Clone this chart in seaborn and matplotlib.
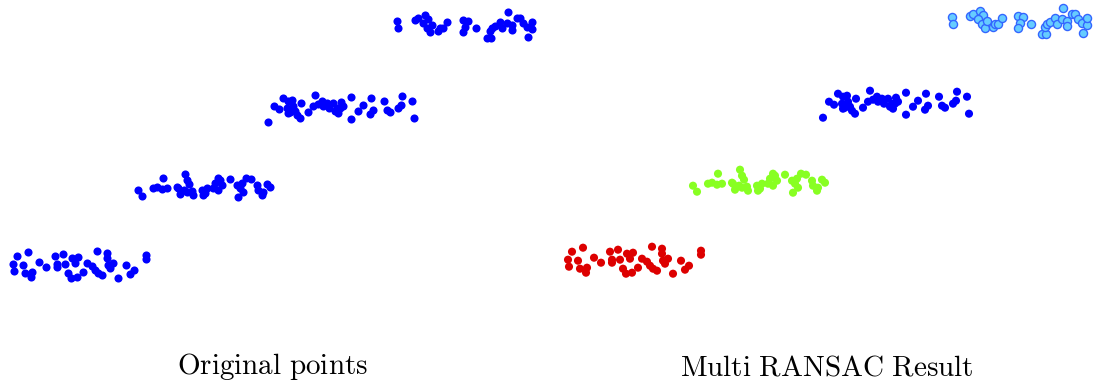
import matplotlib
matplotlib.use("Agg")
import matplotlib.pyplot as plt
import seaborn as sns
import pandas as pd

sns.set_theme(style="white")
plt.rcParams["mathtext.fontset"] = "cm"

# Four line-like groups of 2-D points (x to the right, y downward)
g1_x = [17, 28, 13, 14, 23, 25, 32, 31, 39, 46, 55, 63, 57, 57, 65, 68, 72, 78, 75, 71,
        77, 83, 87, 92, 97, 95, 98, 102, 107, 107, 108, 113, 110, 118, 126, 130, 134, 146, 146]
g1_y = [256, 252, 264, 271, 265, 273, 272, 277, 262, 267, 256, 254, 264, 267, 264, 273, 258, 257, 263, 278,
        277, 272, 263, 266, 251, 270, 273, 275, 253, 258, 265, 263, 268, 278, 265, 274, 270, 255, 259]

g2_x = [138, 142, 153, 157, 162, 163, 167, 177, 178, 185, 187, 189, 184, 180, 187, 192, 193, 202, 203, 205,
        207, 213, 215, 218, 220, 222, 218, 230, 237, 240, 242, 238, 246, 251, 243, 257, 258, 262, 267, 270, 263]
g2_y = [190, 196, 188, 187, 189, 178, 188, 187, 188, 174, 180, 184, 190, 194, 192, 191, 195, 190, 195, 193,
        188, 188, 183, 178, 180, 185, 190, 179, 185, 188, 183, 197, 178, 179, 192, 185, 190, 195, 184, 187, 192]

g3_x = [268, 274, 279, 283, 288, 292, 287, 290, 293, 295, 297, 300, 288, 301, 308, 315, 318, 313, 322, 323,
        327, 329, 333, 335, 337, 340, 341, 343, 338, 351, 351, 358, 363, 371, 373, 370, 384, 387, 390, 398,
        402, 401, 412, 414]
g3_y = [122, 106, 109, 98, 101, 100, 108, 112, 106, 111, 115, 118, 113, 103, 112, 95, 104, 106, 101, 106,
        103, 108, 103, 111, 108, 108, 102, 106, 113, 97, 119, 111, 105, 98, 110, 114, 101, 110, 112, 108,
        96, 105, 101, 118]

g4_x = [397, 398, 415, 418, 425, 428, 423, 427, 430, 432, 438, 440, 443, 447, 463, 468, 465, 463, 476, 487,
        491, 490, 492, 495, 500, 502, 507, 508, 512, 512, 517, 520, 523, 527, 528, 532, 532]
g4_y = [21, 28, 20, 18, 15, 19, 23, 28, 32, 25, 31, 28, 28, 22, 20, 21, 27, 32, 28, 38,
        38, 31, 28, 26, 22, 28, 23, 12, 25, 30, 18, 18, 23, 27, 37, 29, 22]

groups = ["g1", "g2", "g3", "g4"]
titles = [r"$\mathrm{Original\ points}$", r"$\mathrm{Multi\ RANSAC\ Result}$"]

df = pd.concat([
    pd.DataFrame({"x": xs, "y": ys, "group": name})
    for name, xs, ys in zip(groups, [g1_x, g2_x, g3_x, g4_x], [g1_y, g2_y, g3_y, g4_y])
], ignore_index=True)

W, H, DPI = 1096, 383, 100
fig = plt.figure(figsize=(W / DPI, H / DPI), dpi=DPI)

pw, ph = 545, 330
ax_l = fig.add_axes([0 / W, (H - ph) / H, pw / W, ph / H])
ax_r = fig.add_axes([555 / W, (H - ph + 4.3) / H, pw / W, ph / H])

for ax in (ax_l, ax_r):
    ax.set_xlim(0, pw)
    ax.set_ylim(ph, 0)
    ax.set_axis_off()

# Left: every point in the same colour
sns.scatterplot(data=df, x="x", y="y", ax=ax_l, color="#0000ff", s=34,
                linewidth=0, legend=False)

# Right: one colour per detected line
fills = {"g1": "#dd0000", "g2": "#88ff22", "g3": "#0000ff", "g4": "#66ccff"}
edges = {"g1": "none", "g2": "none", "g3": "none", "g4": "#3366ff"}
for name in groups:
    sub = df[df["group"] == name]
    sns.scatterplot(data=sub, x="x", y="y", ax=ax_r, color=fills[name], s=34,
                    edgecolor=edges[name], linewidth=1.0 if name == "g4" else 0,
                    legend=False)

fig.text(273 / W, 1 - 367 / H, titles[0], ha="center", va="center", fontsize=21, color="black")
fig.text(827 / W, 1 - 367 / H, titles[1], ha="center", va="center", fontsize=21, color="black")

fig.savefig("out.png", dpi=DPI)
